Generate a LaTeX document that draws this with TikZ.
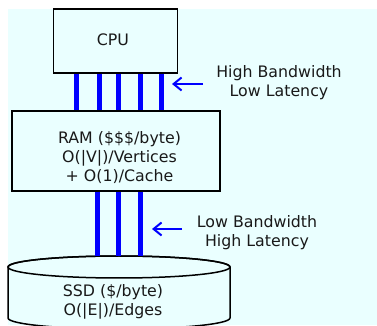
\documentclass[tikz,border=0pt]{standalone}
\usepackage{fontspec}
\setmainfont{DejaVu Sans}
\usetikzlibrary{arrows.meta}
\definecolor{bgc}{RGB}{234,255,255}
\definecolor{busblue}{RGB}{0,0,255}
\begin{document}
\begin{tikzpicture}[x=1pt,y=1pt,
  box/.style={draw=black,line width=1.5pt,fill=bgc,rectangle,inner sep=0pt,align=center},
  txt/.style={align=center,inner sep=0pt,font=\fontsize{15.8}{19}\selectfont,text=black!90},
  bus/.style={draw=busblue,line width=5pt},
  arr/.style={draw=busblue,line width=2pt,-{Straight Barb[length=8pt,width=13pt,line width=2pt]}}]
\useasboundingbox (0,0) rectangle (377,326);
\clip (0,0) rectangle (377,326);
\fill[bgc] (8,1) rectangle (377,317);
% CPU and RAM boxes
\node[box,minimum width=124pt,minimum height=64pt] (cpu) at (115.5,285) {};
\node[txt] (cpul) at (113,286.5) {CPU};
\node[box,minimum width=208pt,minimum height=80pt] (ram) at (116,175) {};
\node[txt] (raml) at (119.5,168.5) {RAM (\$\$\$/byte)\\O(|V|)/Vertices\\+ O(1)/Cache};
% SSD cylinder
\draw[line width=1.5pt,fill=bgc] (8,59) -- (8,8) arc[start angle=180,end angle=360,x radius=111,y radius=11] -- (230,59) arc[start angle=0,end angle=180,x radius=111,y radius=11] -- cycle;
\draw[line width=1.5pt] (119,59) ellipse[x radius=111,y radius=11];
\node[txt] (ssd) at (113,24) {SSD (\$/byte)\\O(|E|)/Edges};
% upper bus
\foreach \i/\x in {1/76,2/99,3/118,4/140,5/161}{
  \coordinate (u\i) at (\x,0);
  \draw[bus] (cpu.south -| u\i) -- (ram.north -| u\i);
}
% lower bus
\foreach \i/\x in {1/97,2/118,3/140}{
  \coordinate (l\i) at (\x,70);
  \draw[bus] (ram.south -| l\i) -- (l\i);
}
% labels and arrows
\node[txt] (hb) at (279,243.5) {High Bandwidth\\Low Latency};
\coordinate (a1s) at (203,242);
\coordinate (a1e) at (172,242);
\draw[arr] (a1s) -- (a1e);
\node[txt] (lb) at (257,93.5) {Low Bandwidth\\High Latency};
\coordinate (a2s) at (182,97);
\coordinate (a2e) at (152,97);
\draw[arr] (a2s) -- (a2e);
\end{tikzpicture}
\end{document}
